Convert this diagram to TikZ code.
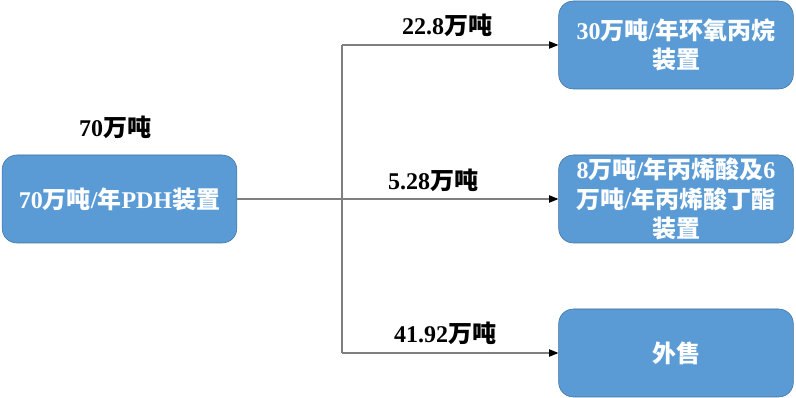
\documentclass[tikz,border=0pt]{standalone}
\usepackage{fontspec}
\setmainfont{Liberation Serif}
\newfontfamily\cjk{Noto Sans CJK SC}
\usetikzlibrary{arrows.meta,positioning}
\definecolor{boxfill}{HTML}{5B9BD5}
\definecolor{boxline}{HTML}{41719C}
\definecolor{flowline}{HTML}{7F7F7F}
\newcommand{\zh}[1]{{\cjk #1}}

\begin{document}
\begin{tikzpicture}[
            x=0.75pt, y=-0.75pt,
            unit/.style={rectangle, draw=boxline, fill=boxfill, rounded corners=11pt, align=center, text=white, font=\fontsize{18}{22}\selectfont\bfseries, minimum width=176pt, minimum height=66pt, inner sep=2pt},
            amount/.style={font=\fontsize{18}{22}\selectfont\bfseries, inner sep=1pt},
            arrow/.style={-{Triangle[length=7pt,width=5.5pt,color=black]}, draw=flowline, thick}
        ]
            \useasboundingbox (0,0) rectangle (796,398);

            % --- PDH ---
            \node[unit] (pdh) at (119.5,199) {70\zh{万吨}/\zh{年}PDH\zh{装置}};
            \node[amount] (feed) at (115,127) {70\zh{万吨}};

            % --- downstream ---
            \node[unit] (po) at (676,45) {30\zh{万吨}/\zh{年环氧丙烷}\\\zh{装置}};
            \node[unit] (aa) at (676,199) {8\zh{万吨}/\zh{年丙烯酸及}6\\\zh{万吨}/\zh{年丙烯酸丁酯}\\\zh{装置}};
            \node[unit] (sale) at (676,353) {\zh{外售}};

            % split point
            \coordinate (top) at (342,45);
            \coordinate (bottom) at (342,353);

            % --- flows ---
            \draw[draw=flowline, thick] (top) -- (bottom);
            \draw[arrow] (pdh.east) -- node[amount, above=4pt, pos=0.61] (aaqty) {5.28\zh{万吨}} (aa.west);
            \draw[arrow] (top) -- node[amount, above=5pt, pos=0.486] (poqty) {22.8\zh{万吨}} (po.west);
            \draw[arrow] (bottom) -- node[amount, above=5pt, pos=0.477] (saleqty) {41.92\zh{万吨}} (sale.west);
\end{tikzpicture}
\end{document}
